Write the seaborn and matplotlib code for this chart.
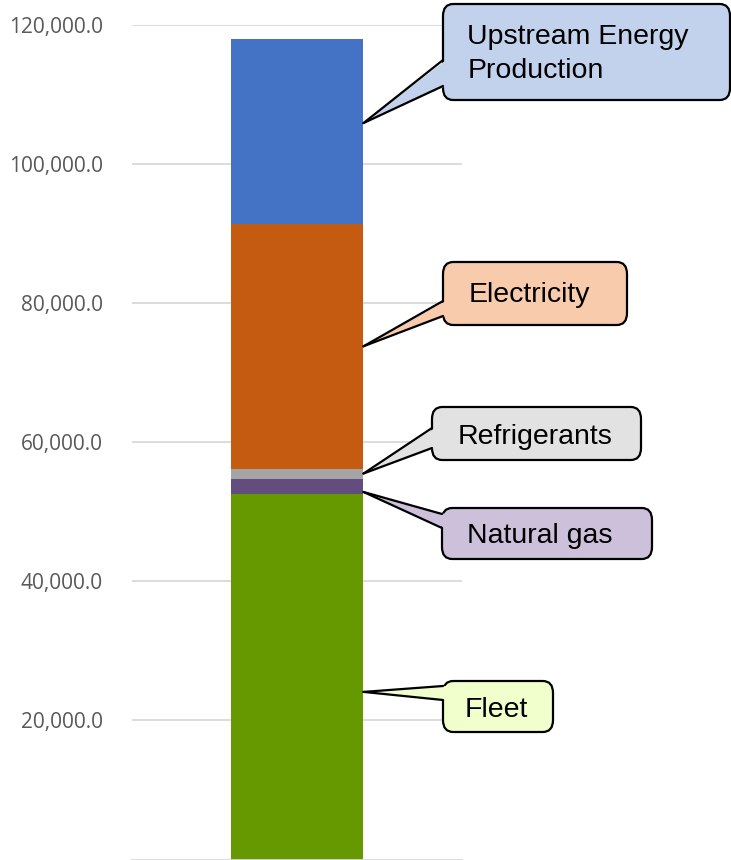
import matplotlib
matplotlib.use("Agg")
import matplotlib.pyplot as plt
import seaborn as sns
import pandas as pd
from matplotlib.patches import FancyBboxPatch, Polygon
from matplotlib.lines import Line2D
from matplotlib.ticker import FuncFormatter

# ── Data ─────────────────────────────────────────────────────────────────
sources = ["Fleet", "Natural gas", "Refrigerants", "Electricity", "Upstream Energy\nProduction"]
emissions = [52600, 2100, 1450, 35300, 26500]
bar_colors = ["#669900", "#634C7E", "#A5A5A5", "#C55A11", "#4472C4"]
box_colors = ["#F0FFCC", "#CCC0DA", "#E2E2E2", "#F8CBAD", "#C2D2EC"]
# value on the bar where each callout points
anchor_vals = [24100, 52850, 55500, 73800, 105900]
yticks = [20000, 40000, 60000, 80000, 100000, 120000]

# callout layout in pixels: box (x0, y0, x1, y1), wedge base (ya, yb), text centre (x, y)
boxes = [(443, 681, 553, 732), (442, 508, 652, 559), (432, 407, 641, 460),
         (443, 262, 627, 325), (443, 4, 730, 100)]
wedges = [(686, 700), (514, 528), (428, 448), (301, 316), (60, 86)]
text_x = [496, 540, 535, 529, 578]
text_y = [710, 536, 437, 295, 54]

W, H = 731, 860

# cumulative totals, drawn tallest first so shorter bars sit on top
df = pd.DataFrame({"source": sources, "value": emissions, "color": bar_colors})
df["cum"] = df["value"].cumsum()

sns.set_style("white")
plt.rcParams["font.family"] = ["Open Sans", "DejaVu Sans"]

fig = plt.figure(figsize=(W / 100, H / 100), dpi=100)
ax = fig.add_axes([132 / W, 1 - 859.5 / H, 330 / W, (859.5 - 25) / H])

for _, row in df.iloc[::-1].iterrows():
    sns.barplot(x=["total"], y=[row["cum"]], color=row["color"], width=0.403,
                saturation=1, ax=ax, linewidth=0)

ax.set_xlim(-0.5, 0.5)
ax.set_ylim(0, 120000)
ax.set_yticks(yticks)
ax.yaxis.set_major_formatter(FuncFormatter(lambda v, p: f"{v:,.1f}"))
ax.tick_params(axis="y", length=0, pad=21, labelsize=15, labelcolor="#595959")
ax.set_xticks([])
ax.set_xlabel("")
ax.set_ylabel("")
ax.grid(axis="y", color="#D9D9D9", linewidth=1.3)
ax.set_axisbelow(True)
for s in ["top", "right", "left"]:
    ax.spines[s].set_visible(False)
ax.spines["bottom"].set_color("#D9D9D9")
ax.spines["bottom"].set_linewidth(1.3)


def fx(px):
    return px / W


def fy(py):
    return 1 - py / H


bar_right = 0.403 / 2
for label, val, (x0, y0, x1, y1), (ya, yb), fc, tx, ty in zip(
        sources, anchor_vals, boxes, wedges, box_colors, text_x, text_y):
    disp = ax.transData.transform((bar_right, val))
    tip = fig.transFigure.inverted().transform(disp)
    box = FancyBboxPatch((fx(x0), fy(y1)), fx(x1 - x0), (y1 - y0) / H,
                         boxstyle=f"round,pad=0,rounding_size={12 / H}",
                         transform=fig.transFigure, facecolor=fc,
                         edgecolor="black", linewidth=1.6, zorder=5)
    fig.add_artist(box)
    # wedge fill reaching into box to hide the box edge at the joint
    wedge = Polygon([tip, (fx(x0 + 3), fy(ya)), (fx(x0 + 3), fy(yb))], closed=True,
                    transform=fig.transFigure, facecolor=fc, edgecolor="none", zorder=6)
    fig.add_artist(wedge)
    for yy in (ya, yb):
        fig.add_artist(Line2D([tip[0], fx(x0)], [tip[1], fy(yy)], color="black",
                              linewidth=1.6, transform=fig.transFigure, zorder=7))
    fig.text(fx(tx), fy(ty), label, ha="center", va="center", multialignment="left",
             fontsize=20.5, family=["Liberation Sans", "DejaVu Sans"], color="black",
             linespacing=1.4, zorder=8)

fig.savefig("out.png", dpi=100)
